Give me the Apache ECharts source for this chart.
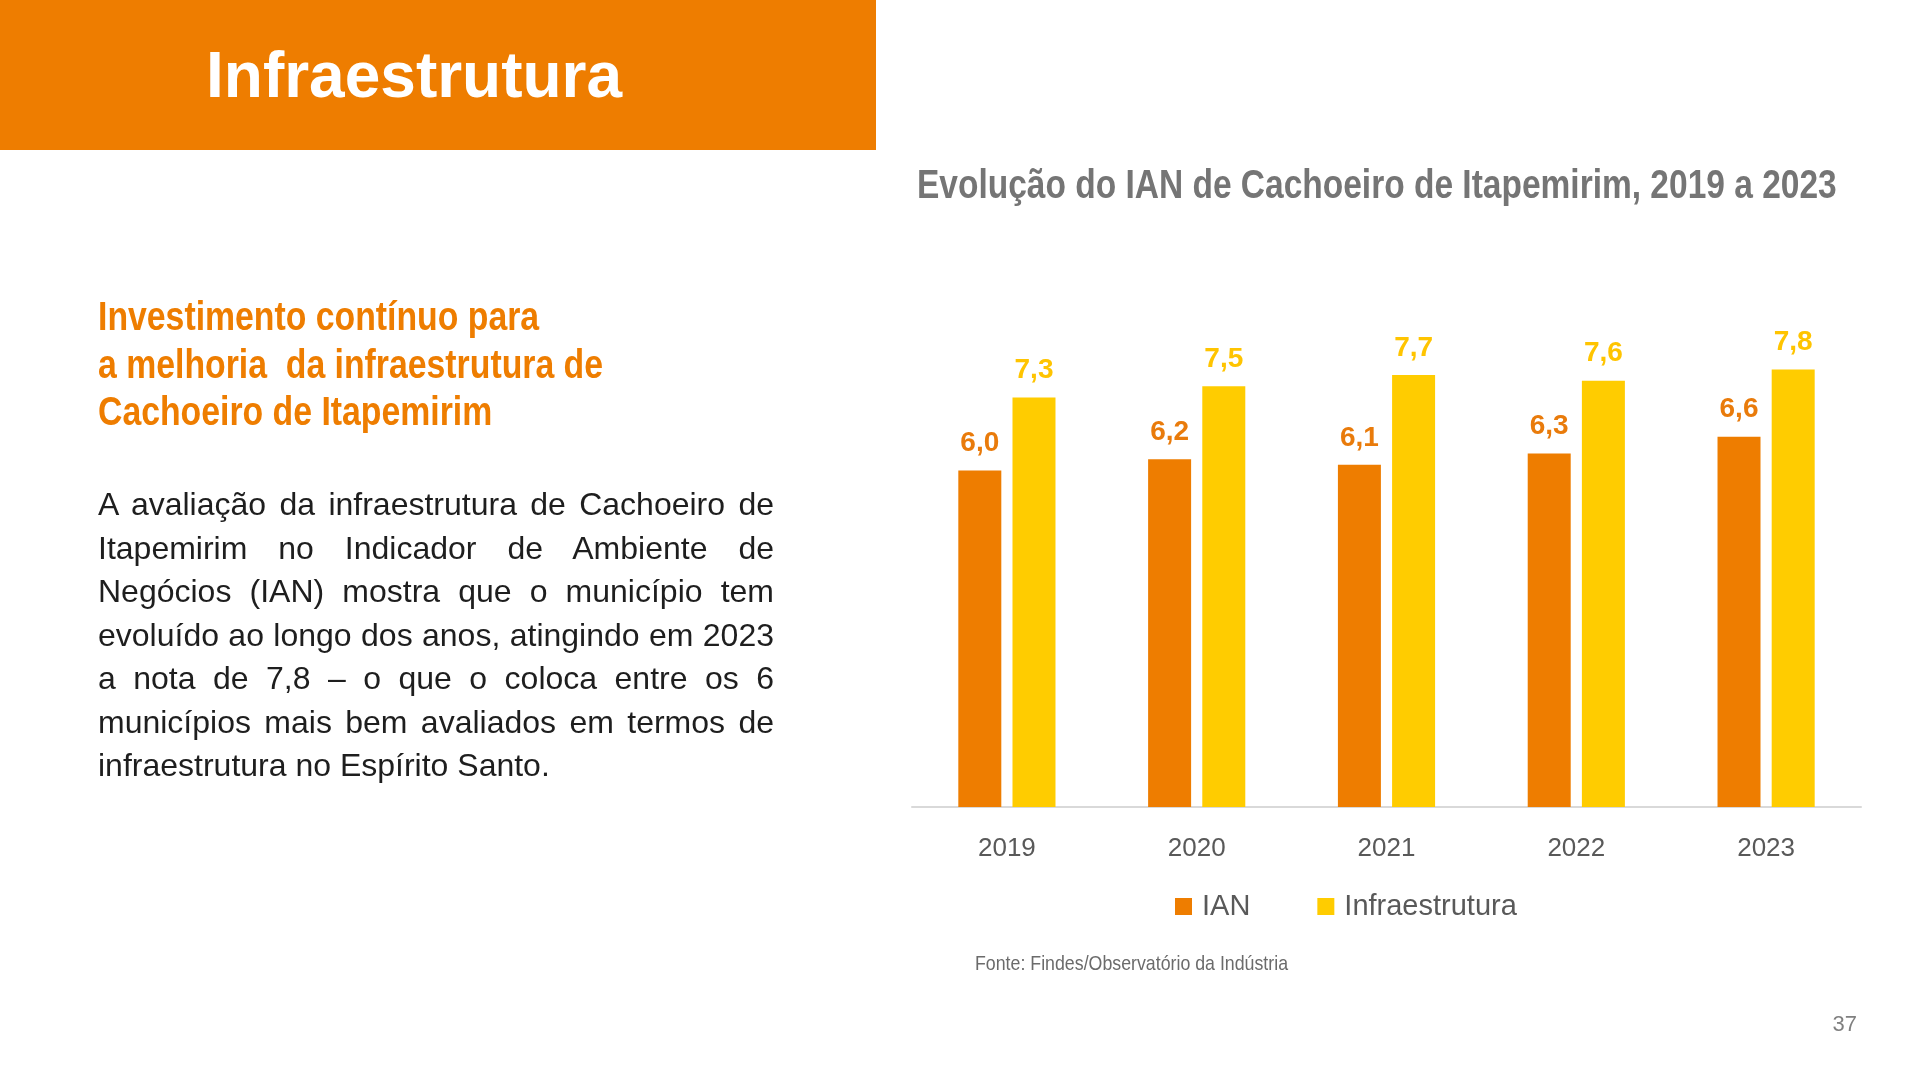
<!DOCTYPE html>
<html lang="pt-BR">
<head>
<meta charset="utf-8">
<title>Infraestrutura - Evolução do IAN de Cachoeiro de Itapemirim</title>
<script src="https://cdn.jsdelivr.net/npm/echarts@6.0.0/dist/echarts.min.js"></script>
<style>
  html, body { margin: 0; padding: 0; background: #ffffff; }
  body { width: 1920px; height: 1080px; position: relative; overflow: hidden; }
  #chart { position: absolute; left: 0; top: 0; width: 1920px; height: 1080px; }
  .banner { position: absolute; left: 0; top: 0; width: 876px; height: 150px; background: #EE7D00; }
  .banner-title { position: absolute; left: 206px; top: 43px; font-family: 'Liberation Sans', Arial, sans-serif;
    font-weight: bold; font-size: 64px; line-height: 64px; color: #ffffff; white-space: nowrap; }
  .subhead { position: absolute; left: 98px; top: 293px; font-family: 'Liberation Sans', Arial, sans-serif;
    font-weight: bold; font-size: 41px; line-height: 47.7px; color: #EE7D00; white-space: nowrap;
    transform: scaleX(0.824); transform-origin: 0 0; }
  .body { position: absolute; left: 98px; top: 483px; width: 676px; font-family: 'Liberation Sans', Arial, sans-serif;
    font-size: 32px; line-height: 43.5px; color: #1e1e1e; }
  .body span { display: block; white-space: nowrap; text-align: justify; text-align-last: justify; }
  .body span.last { text-align-last: left; }
</style>
</head>
<body>
<div id="chart"></div>
<div class="banner"><div class="banner-title">Infraestrutura</div></div>
<div class="subhead">Investimento contínuo para<br>a melhoria&nbsp; da infraestrutura de<br>Cachoeiro de Itapemirim</div>
<div class="body">
  <span>A avaliação da infraestrutura de Cachoeiro de</span>
  <span>Itapemirim no Indicador de Ambiente de</span>
  <span>Negócios (IAN) mostra que o município tem</span>
  <span>evoluído ao longo dos anos, atingindo em 2023</span>
  <span>a nota de 7,8 – o que o coloca entre os 6</span>
  <span>municípios mais bem avaliados em termos de</span>
  <span class="last">infraestrutura no Espírito Santo.</span>
</div>
<script>
// ---- data ----
const years = ['2019', '2020', '2021', '2022', '2023'];
const ianValues = [6.0, 6.2, 6.1, 6.3, 6.6];
const infraValues = [7.3, 7.5, 7.7, 7.6, 7.8];
const seriesNames = ['IAN', 'Infraestrutura'];
const chartTitle = 'Evolução do IAN de Cachoeiro de Itapemirim, 2019 a 2023';
const sourceText = 'Fonte: Findes/Observatório da Indústria';
const pageNumber = '37';

const FONT = "'Liberation Sans', Arial, sans-serif";
const ORANGE = '#EE7D00';
const YELLOW = '#FFCC00';
const fmt = p => p.value.toFixed(1).replace('.', ',');

const chart = echarts.init(document.getElementById('chart'), null, { renderer: 'canvas' });
chart.setOption({
  backgroundColor: 'transparent',
  animation: false,
  legend: {
    data: seriesNames,
    left: 1175, top: 892, padding: 0,
    itemWidth: 17, itemHeight: 17, itemGap: 67,
    icon: 'rect',
    textStyle: { fontFamily: FONT, fontSize: 29, color: '#595959', padding: [0, 0, 0, 5] }
  },
  grid: { left: 912, right: 59, top: 246, bottom: 273, containLabel: false },
  xAxis: {
    type: 'category',
    data: years,
    boundaryGap: true,
    axisLine: { show: true, lineStyle: { color: '#d9d9d9', width: 2 } },
    axisTick: { show: false },
    axisLabel: { margin: 29, fontFamily: FONT, fontSize: 26, color: '#595959' },
    splitLine: { show: false }
  },
  yAxis: {
    type: 'value', min: 0, max: 10, show: false,
    splitLine: { show: false }
  },
  series: [
    {
      name: seriesNames[0], type: 'bar', data: ianValues,
      barWidth: 43, barGap: '26%',
      itemStyle: { color: ORANGE },
      label: { show: true, position: 'top', distance: 13, formatter: fmt,
        fontFamily: FONT, fontWeight: 'bold', fontSize: 28, color: '#E97B0B' }
    },
    {
      name: seriesNames[1], type: 'bar', data: infraValues,
      barWidth: 43, barGap: '26%',
      itemStyle: { color: YELLOW },
      label: { show: true, position: 'top', distance: 13, formatter: fmt,
        fontFamily: FONT, fontWeight: 'bold', fontSize: 28, color: '#FFC400' }
    }
  ],
  graphic: [
    { type: 'text', x: 917, y: 187, scaleX: 0.817,
      style: { text: chartTitle, fontFamily: FONT, fontWeight: 'bold', fontSize: 41, fill: '#757575',
        verticalAlign: 'middle', align: 'left' } },
    { type: 'text', x: 975, y: 964, scaleX: 0.846,
      style: { text: sourceText, fontFamily: FONT, fontSize: 21, fill: '#6b6b6b',
        verticalAlign: 'middle', align: 'left' } },
    { type: 'text', right: 63, top: 1014,
      style: { text: pageNumber, fontFamily: FONT, fontSize: 22, fill: '#808080' } }
  ]
});
</script>
</body>
</html>
